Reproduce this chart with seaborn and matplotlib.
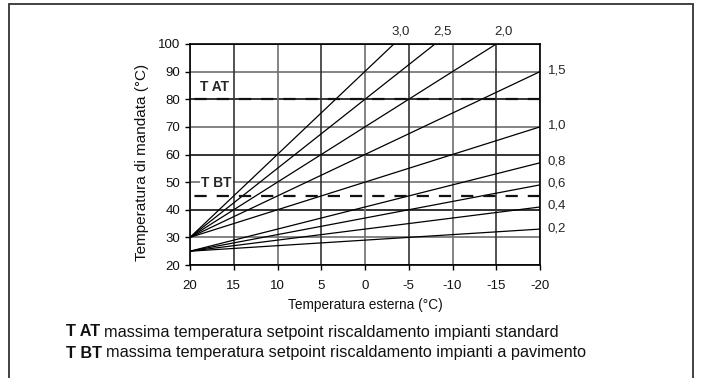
import matplotlib
matplotlib.use("Agg")
import matplotlib.pyplot as plt
import seaborn as sns
import pandas as pd
from matplotlib.patches import Rectangle

# ---- data ----
curve_labels = ["3,0", "2,5", "2,0", "1,5", "1,0", "0,8", "0,6", "0,4", "0,2"]
curve_start_x = [20, 20, 20, 20, 20, 20, 20, 20, 20]
curve_start_y = [30, 30, 30, 30, 30, 25, 25, 25, 25]
curve_end_x = [-3.3, -8, -15, -20, -20, -20, -20, -20, -20]
curve_end_y = [100, 100, 100, 90, 70, 57, 49, 41, 33]
top_labels = ["3,0", "2,5", "2,0"]

x_ticks = [20, 15, 10, 5, 0, -5, -10, -15, -20]
y_ticks = [20, 30, 40, 50, 60, 70, 80, 90, 100]

limit_names = ["T AT", "T BT"]
limit_values = [80, 45]
legend_desc = ["massima temperatura setpoint riscaldamento impianti standard",
               "massima temperatura setpoint riscaldamento impianti a pavimento"]

x_label = "Temperatura esterna (°C)"
y_label = "Temperatura di mandata (°C)"

# ---- build tidy frame ----
rows = []
for lab, x0, y0, x1, y1 in zip(curve_labels, curve_start_x, curve_start_y, curve_end_x, curve_end_y):
    rows.append({"curve": lab, "Te": x0, "Tm": y0})
    rows.append({"curve": lab, "Te": x1, "Tm": y1})
df = pd.DataFrame(rows)

sns.set_theme(style="white")
plt.rcParams["font.family"] = ["Liberation Sans", "DejaVu Sans"]
plt.rcParams["axes.unicode_minus"] = False

FS_TICK = 9.5
FS_XL = 9.8
FS_YL = 11.0
FS_BOT = 11.7
FS_LIM = 9.9

W, H = 702, 378
fig = plt.figure(figsize=(W / 100, H / 100), dpi=100)
ax = fig.add_axes([190 / W, 1 - 265 / H, 350 / W, 221 / H])

# grid
for yv in y_ticks:
    col = "#111111" if (yv % 20 == 0) else "#6e6e6e"
    ax.axhline(yv, color=col, lw=1.2, zorder=1)
for i, xv in enumerate(x_ticks):
    col = "#333333" if i % 2 == 1 else "#6e6e6e"
    ax.axvline(xv, color=col, lw=1.2, zorder=1)

sns.lineplot(data=df, x="Te", y="Tm", units="curve", estimator=None,
             color="black", lw=0.9, ax=ax, zorder=3, legend=False)

# dashed limit lines
for name, val in zip(limit_names, limit_values):
    ld = pd.DataFrame({"Te": [x_ticks[0], x_ticks[-1]], "Tm": [val, val]})
    l = sns.lineplot(data=ld, x="Te", y="Tm", color="#111111", lw=1.6, ax=ax, zorder=4)
    l.lines[-1].set_dashes([5.5, 4.5])

ax.text(17.2, 84.3, limit_names[0], fontsize=FS_LIM, fontweight="bold", ha="center", va="center", zorder=5)
ax.text(17.0, 49.7, limit_names[1], fontsize=FS_LIM, fontweight="bold", ha="center", va="center", zorder=5,
        bbox=dict(facecolor="white", edgecolor="none", pad=1.0))

ax.set_xlim(20, -20)
ax.set_ylim(20, 100)
ax.set_xticks(x_ticks)
ax.set_yticks(y_ticks)
ax.set_xticklabels([str(v) for v in x_ticks])
ax.set_yticklabels([str(v) for v in y_ticks])
ax.tick_params(axis="both", direction="out", length=3.6, width=1, color="black",
               labelsize=FS_TICK, labelcolor="#111111")
ax.tick_params(axis="x", pad=7.5)
ax.tick_params(axis="y", pad=3.5)
ax.tick_params(left=True, bottom=True)
for s in ax.spines.values():
    s.set_color("black")
    s.set_linewidth(1.2)
ax.set_xlabel(x_label, fontsize=FS_XL, color="#111111")
ax.set_ylabel(y_label, fontsize=FS_YL, color="#111111")
ax.xaxis.set_label_coords(0.5, (265 - 305) / 221, transform=ax.transAxes)
ax.xaxis.label.set_va("center")
ax.yaxis.set_label_coords((142 - 190) / 350, (265 - 162) / 221, transform=ax.transAxes)
ax.yaxis.label.set_va("center")

# curve labels
for lab, x1, y1 in zip(curve_labels, curve_end_x, curve_end_y):
    if lab in top_labels:
        ax.annotate(lab, xy=(x1, y1), xytext=(7, 12), textcoords="offset pixels",
                    ha="center", va="center", fontsize=FS_TICK, annotation_clip=False)
    else:
        ax.annotate(lab, xy=(x1, y1), xytext=(8, 1), textcoords="offset pixels",
                    ha="left", va="center", fontsize=FS_TICK, annotation_clip=False)

# outer frame
fig.patches.append(Rectangle((9 / W, -0.1), (693 - 9) / W, 1.1 - 4 / H, transform=fig.transFigure,
                             fill=False, edgecolor="#333333", lw=1.3))

# bottom description
for i, (name, desc) in enumerate(zip(limit_names, legend_desc)):
    y = 1 - (332 + i * 21) / H
    t = fig.text(66 / W, y, name, fontsize=FS_BOT, fontweight="bold", va="center", ha="left", color="#111111")
    fig.canvas.draw()
    bb = t.get_window_extent()
    fig.text(bb.x1 / W + 4 / W, y, desc, fontsize=FS_BOT, va="center", ha="left", color="#111111")

fig.savefig("out.png", dpi=100)
